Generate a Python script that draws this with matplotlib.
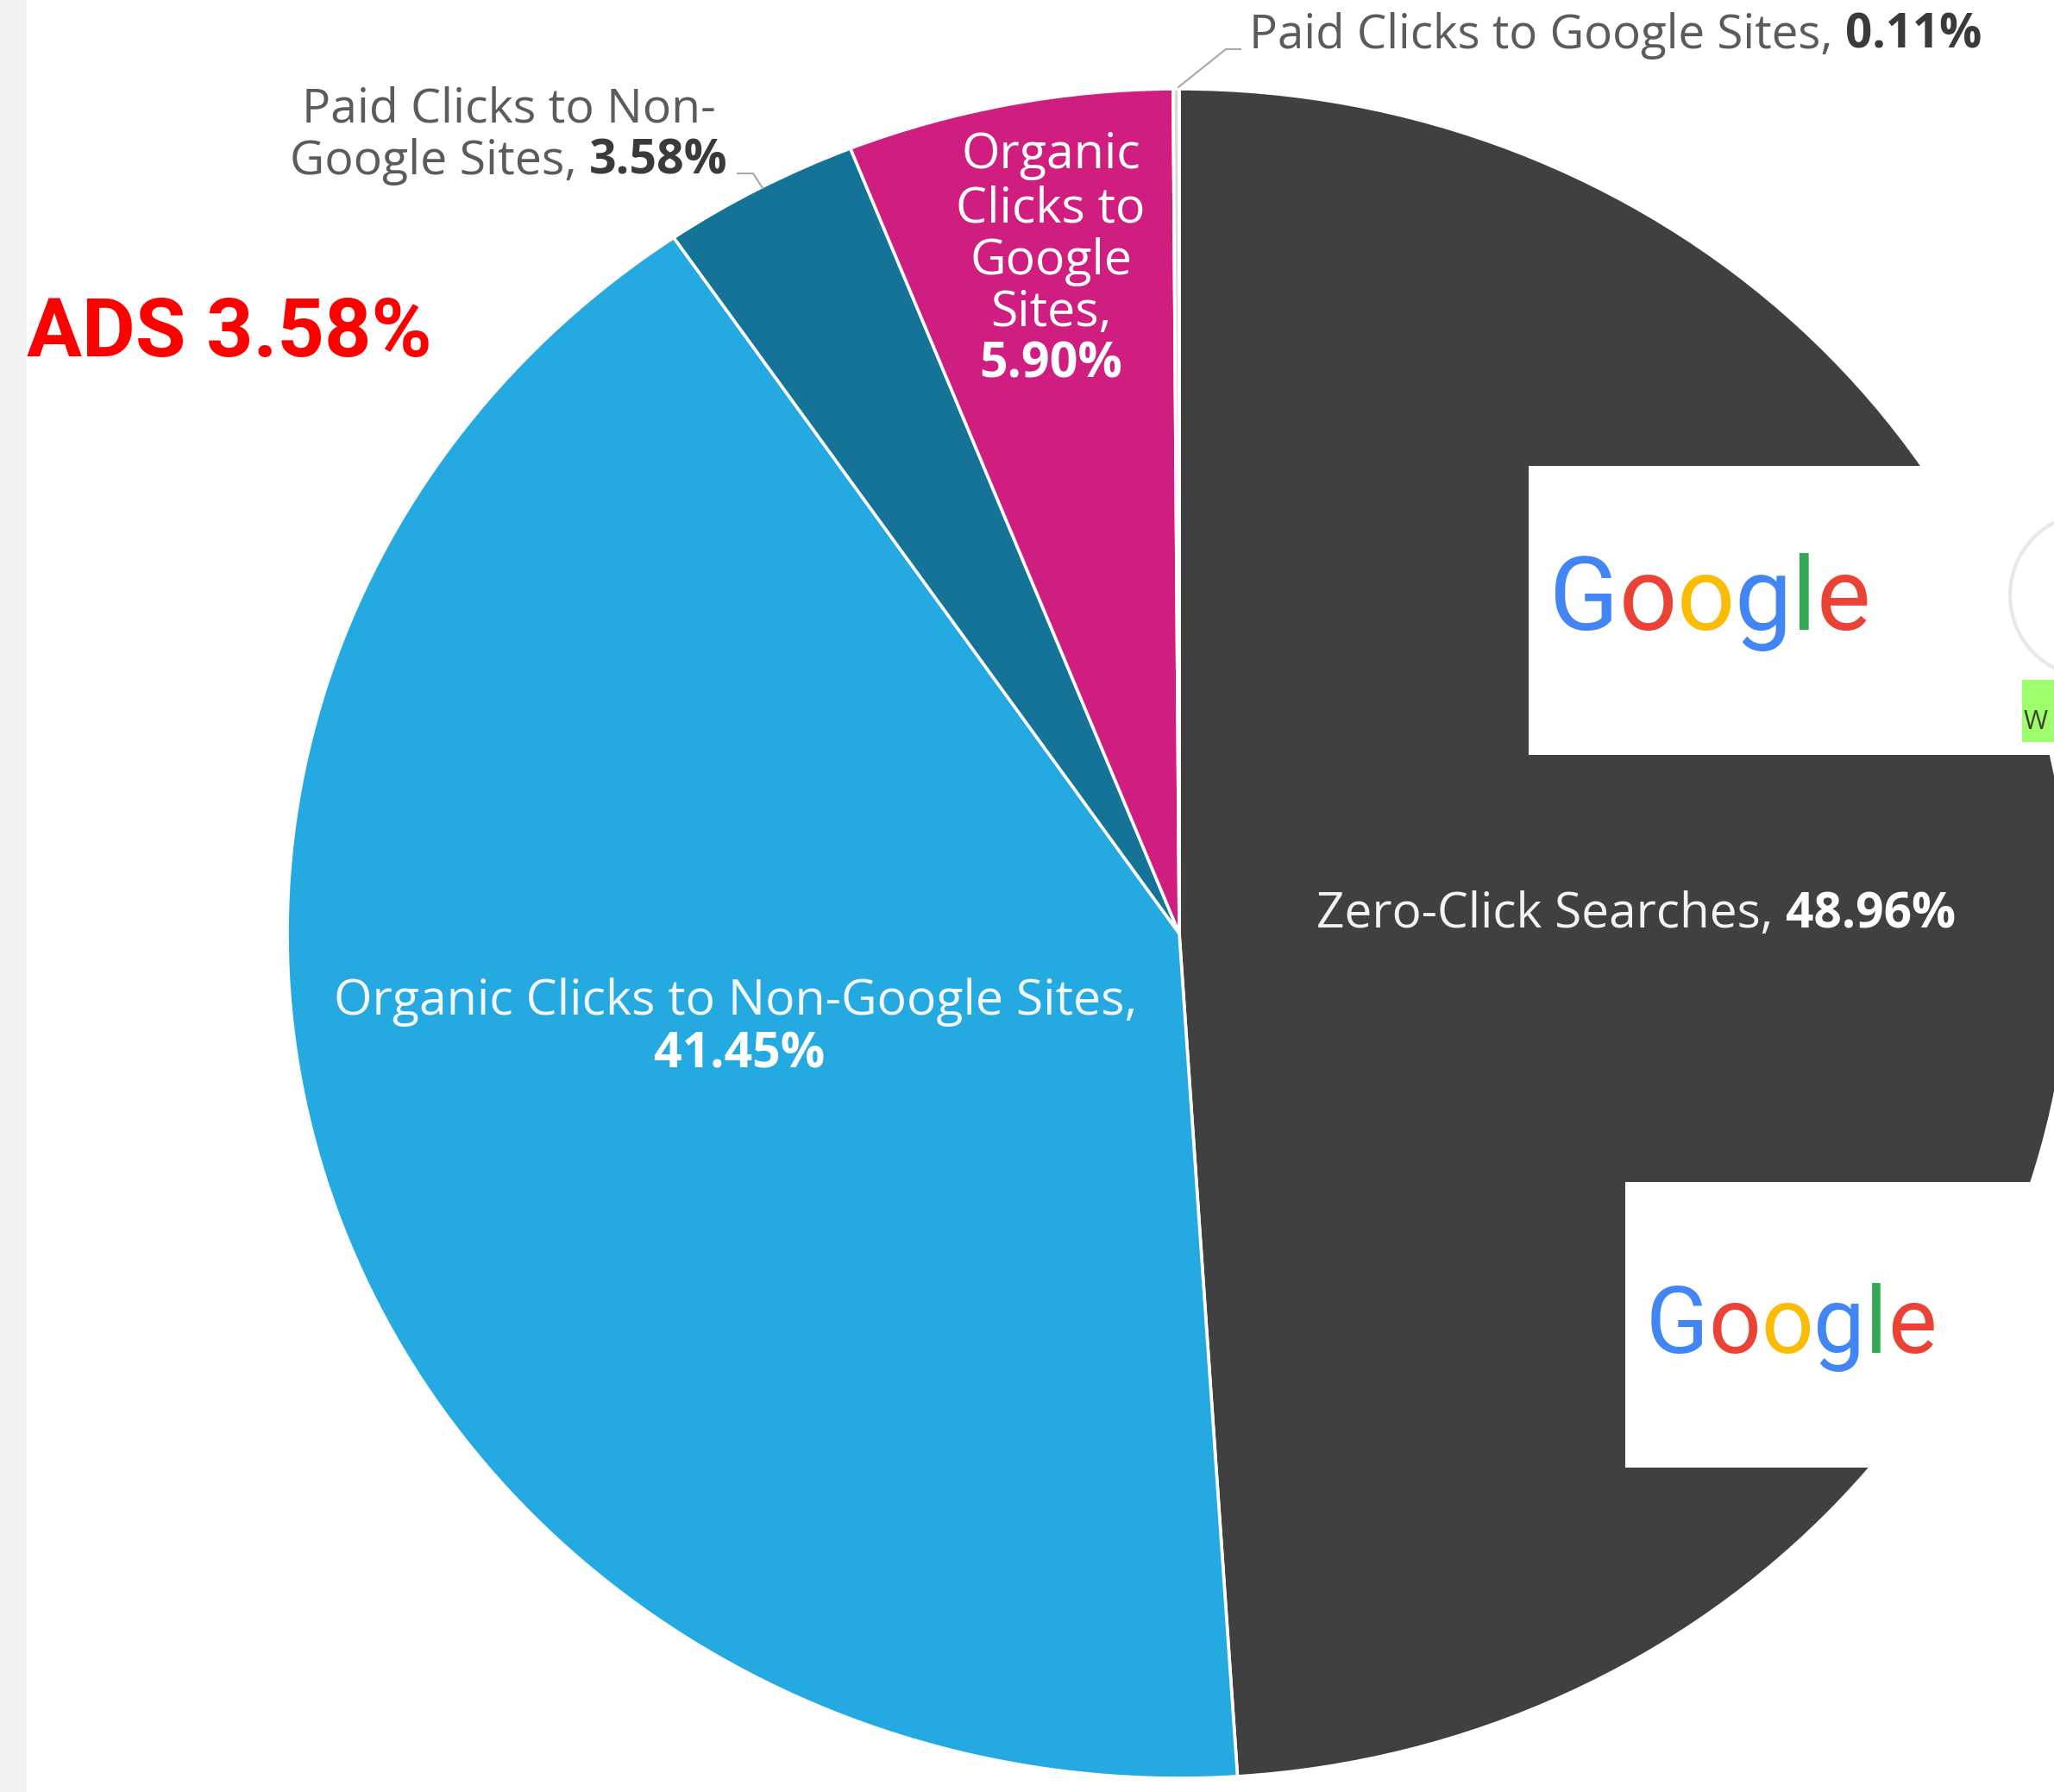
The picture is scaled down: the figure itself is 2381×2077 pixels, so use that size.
import matplotlib
matplotlib.use('Agg')
import matplotlib.pyplot as plt
from matplotlib.patches import Rectangle, Ellipse
from matplotlib.lines import Line2D

W, H = 2381, 2077
DPI = 100

# ---------------- data ----------------
categories = ["Zero-Click Searches", "Organic Clicks to Non-Google Sites",
              "Paid Clicks to Non-Google Sites", "Organic Clicks to Google Sites",
              "Paid Clicks to Google Sites"]
shares = [48.96, 41.45, 3.58, 5.90, 0.11]
pct_labels = ["48.96%", "41.45%", "3.58%", "5.90%", "0.11%"]
slice_colors = ["#404040", "#24a9e1", "#167398", "#cf1e7f", "#d9d9d9"]
callout_text = "ADS 3.58%"
logo_text = "Google"
logo_colors = ["#4285F4", "#EA4335", "#FBBC05", "#4285F4", "#34A853", "#EA4335"]

FONT = ["Open Sans", "DejaVu Sans"]
LOGO_FONT = ["Roboto", "DejaVu Sans"]
ADS_FONT = ["Roboto", "DejaVu Sans"]

fig = plt.figure(figsize=(W / DPI, H / DPI), dpi=DPI)
fig.patch.set_facecolor("white")

# left grey strip
fig.add_artist(Rectangle((0, 0), 31 / W, 1, transform=fig.transFigure,
                         facecolor="#f2f2f2", edgecolor="none", zorder=0))

ax = fig.add_axes([0, 0, 1, 1])
wedges, _ = ax.pie(shares, colors=slice_colors, startangle=90, counterclock=False,
                   wedgeprops=dict(edgecolor="white", linewidth=2.6))
ax.set_aspect("auto")
cx, cy, rx, ry = 1367, 1082, 1034, 979
ax.set_xlim(-cx / rx, (W - cx) / rx)
ax.set_ylim(-(H - cy) / ry, cy / ry)
ax.axis("off")
ax.patch.set_alpha(0)

renderer = fig.canvas.get_renderer()


def fx(x):
    return x / W


def fy(y):
    return 1 - y / H


def rect_px(x0, y0, x1, y1, color, z=2):
    fig.add_artist(Rectangle((fx(x0), fy(y1)), (x1 - x0) / W, (y1 - y0) / H,
                             transform=fig.transFigure, facecolor=color,
                             edgecolor="none", zorder=z))


def width(text, size, weight="normal", family=FONT):
    t = fig.text(0, 0, text, fontsize=size, fontweight=weight, family=family)
    w = t.get_window_extent(renderer).width
    t.remove()
    return w


def adv(text, size, weight="normal", family=FONT):
    return width(text + "x", size, weight, family) - width("x", size, weight, family)


def seg_widths(segments, size, family=FONT):
    widths = []
    for i, (s, wgt, c) in enumerate(segments):
        if i < len(segments) - 1:
            widths.append(adv(s, size, wgt, family))
        else:
            widths.append(width(s, size, wgt, family))
    return widths


def fit(segments, target, family=FONT):
    return 10 * target / sum(seg_widths(segments, 10, family))


def rich(segments, x, y, size, ha="left", family=FONT):
    widths = seg_widths(segments, size, family)
    total = sum(widths)
    x0 = x - total / 2 if ha == "center" else (x - total if ha == "right" else x)
    for (s, wgt, c), w in zip(segments, widths):
        fig.text(fx(x0), fy(y), s, fontsize=size, fontweight=wgt, color=c,
                 family=family, va="baseline", ha="left", zorder=5)
        x0 += w


GREY = "#5b5b5b"
DGREY = "#3a3a3a"
WHITE = "#ffffff"

# common label size fitted to the long label width
S = fit([(categories[1] + ",", "normal", WHITE)], 931)

# outside label: paid clicks to google sites
top_segs = [(categories[4] + ", ", "normal", GREY), (pct_labels[4], "bold", DGREY)]
rich(top_segs, 1448, 56, min(S, fit(top_segs, 848)))
fig.add_artist(Line2D([fx(1366), fx(1421), fx(1438)], [fy(101), fy(57), fy(57)],
                      transform=fig.transFigure, color="#a8a8a8", lw=1.5, zorder=4))

# outside label: paid clicks to non-google sites
l2 = [("Google Sites, ", "normal", GREY), (pct_labels[2], "bold", DGREY)]
S2 = min(S, fit(l2, 507))
rich([("Paid Clicks to Non-", "normal", GREY)], 590, 142, S2, ha="center")
rich(l2, 590, 202, S2, ha="center")
fig.add_artist(Line2D([fx(855), fx(873), fx(884)], [fy(201), fy(201), fy(218)],
                      transform=fig.transFigure, color="#a8a8a8", lw=1.5, zorder=4))

# pink slice label
pink_lines = ["Organic", "Clicks to", "Google", "Sites,"]
pink_base = [195, 257, 318, 378]
for s, b in zip(pink_lines, pink_base):
    rich([(s, "normal", WHITE)], 1218, b, S, ha="center")
rich([(pct_labels[3], "bold", WHITE)], 1218, 438, S, ha="center")

# zero-click label
zc = [(categories[0] + ", ", "normal", "#f2f2f2"), (pct_labels[0], "bold", WHITE)]
rich(zc, 1897, 1075, min(S, fit(zc, 739)), ha="center")

# organic non-google label
rich([(categories[1] + ",", "normal", "#f2f7fa")], 853, 1176, S, ha="center")
rich([(pct_labels[1], "bold", WHITE)], 857, 1237, S, ha="center")

# ADS callout
ads_size = 10 * 470 / width(callout_text, 10, "bold", ADS_FONT)
fig.text(fx(31), fy(413), callout_text, fontsize=ads_size, fontweight="bold",
         color="#ff0000", family=ADS_FONT, va="baseline", ha="left", zorder=5)

# white boxes with Google logos
rect_px(1772, 540, W, 875, "white")
rect_px(1884, 1370, W, 1701, "white")

# UI circle and green tag at right edge
fig.add_artist(Ellipse((fx(2425), fy(690)), 2 * 95 / W, 2 * 95 / H,
                       transform=fig.transFigure, facecolor="white",
                       edgecolor="#e8e8e8", lw=3, zorder=3))
rect_px(2344, 788, W, 860, "#9cff6b", z=3)
fig.text(fx(2346), fy(845), "W", fontsize=22, color="#404030", family=FONT,
         va="baseline", ha="left", zorder=5)


def logo(x0, base, target_w):
    size = 10 * target_w / width(logo_text, 10, "normal", LOGO_FONT)
    for i, (ch, col) in enumerate(zip(logo_text, logo_colors)):
        xi = x0 + (adv(logo_text[:i], size, "normal", LOGO_FONT) if i else 0)
        fig.text(fx(xi), fy(base), ch, fontsize=size, color=col, family=LOGO_FONT,
                 va="baseline", ha="left", zorder=5)


logo(1796, 730, 371)
logo(1908, 1568, 335)

fig.savefig("out.png", dpi=DPI, facecolor="white")
